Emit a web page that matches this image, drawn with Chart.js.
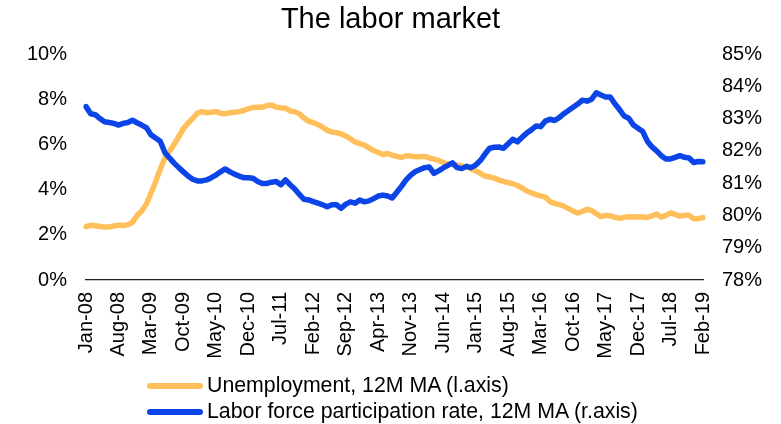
<!DOCTYPE html>
<html>
<head>
<meta charset="utf-8">
<script src="https://cdn.jsdelivr.net/npm/chart.js@4.4.1/dist/chart.umd.min.js"></script>
<style>
  body { margin: 0; background: #fff; }
  #wrap { position: relative; width: 781px; height: 424px; }
  #legend { position: absolute; left: 147px; top: 373px; font-family: "Liberation Sans", Arial, sans-serif; font-size: 21.3px; color: #000; }
  .row { display: flex; align-items: center; height: 25.7px; white-space: nowrap; }
  .sw { width: 56px; height: 6px; border-radius: 3px; margin-right: 4px; }
</style>
</head>
<body>
<div id="wrap">
  <canvas id="chart" width="781" height="424"></canvas>
  <div id="legend"></div>
</div>
<script>
// monthly, Jan-08 .. Feb-19
var monthNames = ['Jan','Feb','Mar','Apr','May','Jun','Jul','Aug','Sep','Oct','Nov','Dec'];
var firstYear = 2008, nMonths = 134;
var categories = [];
for (var i = 0; i < nMonths; i++) {
    var yy = firstYear + Math.floor(i / 12);
    categories.push(monthNames[i % 12] + '-' + String(yy).slice(2));
}

// Unemployment, 12M MA (l.axis), %
var unemployment = [
    2.36, 2.42, 2.40, 2.37, 2.34, 2.35, 2.39, 2.43, 2.41, 2.44, 2.55, 2.85,
    3.05, 3.35, 3.84, 4.35, 4.90, 5.40, 5.70, 6.00, 6.35, 6.70, 6.95, 7.15,
    7.38, 7.45, 7.40, 7.42, 7.45, 7.38, 7.36, 7.40, 7.42, 7.45, 7.50, 7.58,
    7.63, 7.64, 7.64, 7.72, 7.74, 7.65, 7.62, 7.60, 7.48, 7.45, 7.35, 7.17,
    7.03, 6.96, 6.88, 6.76, 6.62, 6.55, 6.52, 6.46, 6.37, 6.25, 6.10, 6.04,
    5.97, 5.85, 5.73, 5.64, 5.55, 5.60, 5.52, 5.47, 5.42, 5.50, 5.49, 5.45,
    5.45, 5.47, 5.40, 5.35, 5.29, 5.20, 5.13, 5.11, 5.09, 5.05, 5.00, 4.92,
    4.82, 4.72, 4.60, 4.56, 4.51, 4.42, 4.36, 4.31, 4.26, 4.18, 4.07, 3.94,
    3.86, 3.78, 3.72, 3.67, 3.47, 3.39, 3.34, 3.27, 3.16, 3.05, 2.96, 3.03,
    3.13, 3.07, 2.94, 2.80, 2.86, 2.84, 2.77, 2.73, 2.77, 2.80, 2.79, 2.80,
    2.79, 2.77, 2.84, 2.92, 2.78, 2.86, 2.97, 2.90, 2.83, 2.86, 2.86, 2.71,
    2.72, 2.76
];

// Labor force participation rate, 12M MA (r.axis), %
var participation = [
    83.37, 83.15, 83.12, 83.00, 82.90, 82.88, 82.85, 82.80, 82.85, 82.88, 82.95, 82.87,
    82.80, 82.72, 82.50, 82.40, 82.30, 81.95, 81.78, 81.62, 81.48, 81.35, 81.22, 81.12,
    81.07, 81.07, 81.10, 81.17, 81.25, 81.35, 81.44, 81.35, 81.28, 81.22, 81.17, 81.17,
    81.15, 81.05, 80.99, 80.99, 81.03, 81.05, 80.95, 81.10, 80.95, 80.82, 80.65, 80.50,
    80.48, 80.43, 80.38, 80.33, 80.27, 80.33, 80.33, 80.22, 80.35, 80.42, 80.38, 80.48,
    80.42, 80.45, 80.52, 80.60, 80.63, 80.60, 80.54, 80.72, 80.90, 81.10, 81.25, 81.36,
    81.42, 81.48, 81.50, 81.30, 81.38, 81.47, 81.55, 81.63, 81.48, 81.45, 81.52, 81.48,
    81.56, 81.70, 81.90, 82.08, 82.11, 82.12, 82.08, 82.22, 82.36, 82.28, 82.42, 82.55,
    82.65, 82.77, 82.75, 82.92, 82.98, 82.94, 83.03, 83.15, 83.25, 83.35, 83.45, 83.57,
    83.54, 83.60, 83.80, 83.73, 83.67, 83.67, 83.46, 83.28, 83.08, 83.01, 82.80, 82.70,
    82.60, 82.30, 82.12, 82.00, 81.85, 81.75, 81.75, 81.80, 81.85, 81.80, 81.78, 81.64,
    81.67, 81.66
];

var leftTicks = [0, 2, 4, 6, 8, 10];
var rightTicks = [78, 79, 80, 81, 82, 83, 84, 85];
var labelEvery = 7;

var seriesNames = ['Unemployment, 12M MA (l.axis)', 'Labor force participation rate, 12M MA (r.axis)'];
var seriesColors = ['#FFC05C', '#0B45E8'];

var fontFam = '"Liberation Sans", Arial, sans-serif';
Chart.defaults.font.family = fontFam;
Chart.defaults.color = '#000';

var chart = new Chart(document.getElementById('chart'), {
    type: 'line',
    data: {
        labels: categories,
        datasets: [{
            label: seriesNames[0],
            data: unemployment,
            yAxisID: 'yL',
            borderColor: seriesColors[0],
            borderWidth: 5.5,
            pointRadius: 0,
            borderJoinStyle: 'round',
            borderCapStyle: 'round',
            order: 2
        }, {
            label: seriesNames[1],
            data: participation,
            yAxisID: 'yR',
            borderColor: seriesColors[1],
            borderWidth: 5.5,
            pointRadius: 0,
            borderJoinStyle: 'round',
            borderCapStyle: 'round',
            order: 1
        }]
    },
    options: {
        responsive: false,
        animation: false,
        layout: { padding: { top: 0, bottom: 0, left: 0, right: 0 } },
        plugins: {
            legend: { display: false },
            tooltip: { enabled: false },
            title: {
                display: true,
                text: 'The labor market',
                font: { size: 29, weight: 'normal' },
                padding: { top: 2.6, bottom: 16.6 }
            }
        },
        scales: {
            x: {
                offset: false,
                grid: { display: true, drawOnChartArea: false, drawTicks: false },
                border: { display: true, color: '#222', width: 1.2 },
                ticks: {
                    autoSkip: false,
                    minRotation: 90,
                    maxRotation: 90,
                    padding: 12,
                    font: { size: 20 },
                    callback: function (v, idx) {
                        return idx % labelEvery === 0 ? categories[idx] : '';
                    }
                },
                afterFit: function (s) { s.height = 144; }
            },
            yL: {
                position: 'left',
                min: leftTicks[0],
                max: leftTicks[leftTicks.length - 1],
                grid: { display: false, drawTicks: false },
                border: { display: false },
                afterBuildTicks: function (s) { s.ticks = leftTicks.map(function (v) { return { value: v }; }); },
                ticks: {
                    padding: 19,
                    font: { size: 20 },
                    callback: function (v) { return v + '%'; }
                },
                afterFit: function (s) { s.width = 86; }
            },
            yR: {
                position: 'right',
                min: rightTicks[0],
                max: rightTicks[rightTicks.length - 1],
                grid: { display: false, drawTicks: false },
                border: { display: false },
                afterBuildTicks: function (s) { s.ticks = rightTicks.map(function (v) { return { value: v }; }); },
                ticks: {
                    padding: 19,
                    font: { size: 20 },
                    callback: function (v) { return v + '%'; }
                },
                afterFit: function (s) { s.width = 78; }
            }
        }
    }
});

// legend rows, left aligned like the original
var legendHtml = '';
for (var k = 0; k < seriesNames.length; k++) {
    legendHtml += '<div class="row"><span class="sw" style="background:' + seriesColors[k] + '"></span>' + seriesNames[k] + '</div>';
}
document.getElementById('legend').innerHTML = legendHtml;
</script>
</body>
</html>
